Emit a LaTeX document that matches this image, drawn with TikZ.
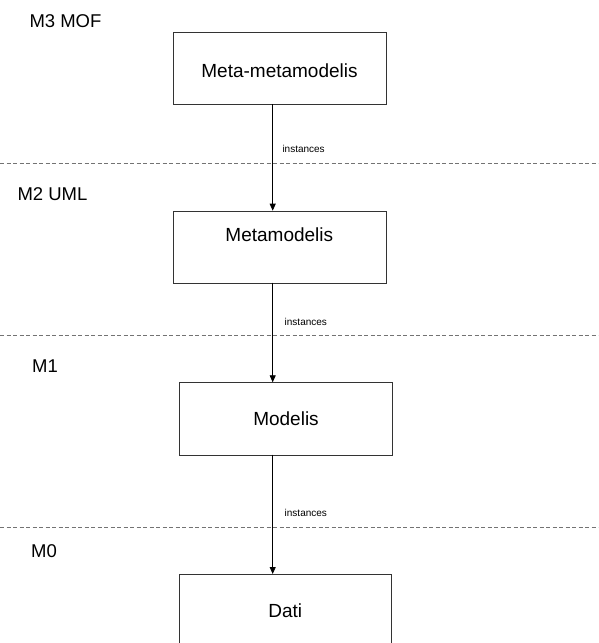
\documentclass[tikz,border=0pt]{standalone}
\usepackage{fontspec}
\setmainfont{Liberation Sans}
\usetikzlibrary{arrows.meta}
\begin{document}
\begin{tikzpicture}[x=1pt,y=-1pt,
  level/.style={anchor=base west,inner sep=0pt,font=\fontsize{18.5}{20}\selectfont},
  box/.style={draw=black!80,line width=0.8pt,anchor=north west,inner sep=0pt},
  boxtext/.style={anchor=base,inner sep=0pt,font=\fontsize{19}{21}\selectfont},
  sep/.style={draw=black!55,line width=0.8pt,dash pattern=on 4pt off 2.5pt},
  flow/.style={draw=black,line width=0.8pt,-{Triangle[length=7pt,width=6pt]}},
  lbl/.style={anchor=base west,inner sep=0pt,font=\fontsize{10}{12}\selectfont}]
\useasboundingbox (0,0) rectangle (598,643);

% level separators
\draw[sep] (0,163.5) -- (598,163.5);
\draw[sep] (0,335.5) -- (598,335.5);
\draw[sep] (0,527.5) -- (598,527.5);

% level names
\node[level] (m3) at (29.3,27.3) {M3 MOF};
\node[level] (m2) at (17.3,200.7) {M2 UML};
\node[level] (m1) at (32,372) {M1};
\node[level] (m0) at (31,557) {M0};

% model boxes
\node[box,minimum width=213pt,minimum height=72pt] (mm) at (172.7,32) {};
\node[boxtext] (mmtext) at (279.5,77.3) {Meta-metamodelis};
\node[box,minimum width=213pt,minimum height=72pt] (meta) at (172.7,210.7) {};
\node[boxtext] (metatext) at (279.3,241.7) {Metamodelis};
\node[box,minimum width=212.4pt,minimum height=72.4pt] (mod) at (179.3,382.3) {};
\node[boxtext] (modtext) at (286,425.7) {Modelis};
\draw[draw=black!80,line width=0.8pt] (179.3,650) -- (179.3,574) -- (391.7,574) -- (391.7,650);
\coordinate (dati) at (272.7,574);
\node[boxtext] (datitext) at (285.3,617.3) {Dati};

% instantiation arrows
\coordinate (a1) at (272.7,104);
\coordinate (b1) at (272.7,210.7);
\coordinate (a2) at (272.7,282.7);
\coordinate (b2) at (272.7,382.3);
\coordinate (a3) at (272.7,454.7);
\draw[flow] (a1) -- (b1);
\draw[flow] (a2) -- (b2);
\draw[flow] (a3) -- (dati);

\node[lbl] (i1) at (282.3,152.3) {instances};
\node[lbl] (i2) at (284.5,325) {instances};
\node[lbl] (i3) at (284.5,516.5) {instances};
\end{tikzpicture}
\end{document}
